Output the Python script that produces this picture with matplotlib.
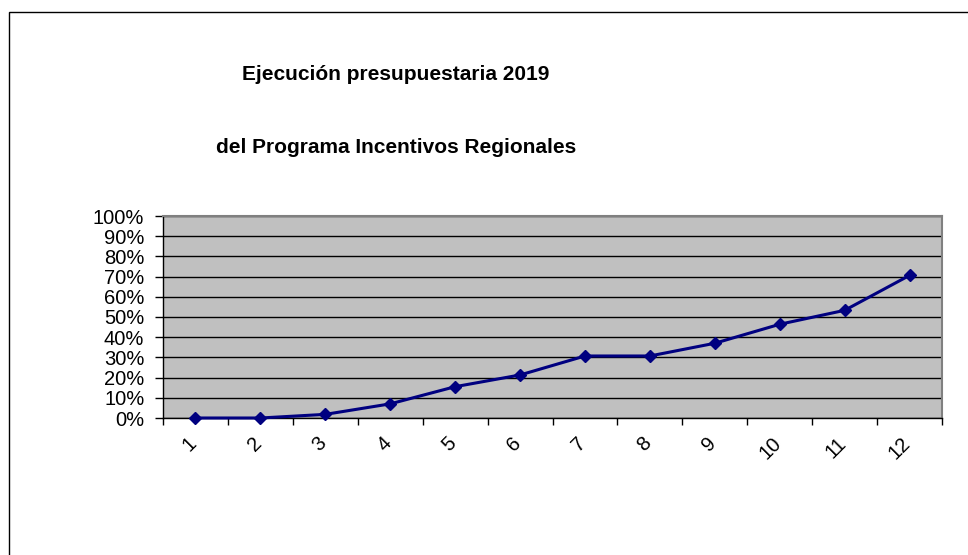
import matplotlib.pyplot as plt
from matplotlib.patches import Rectangle
from matplotlib.ticker import FixedLocator, PercentFormatter
from matplotlib.transforms import ScaledTranslation

# monthly cumulative budget execution (%)
months = ['1', '2', '3', '4', '5', '6', '7', '8', '9', '10', '11', '12']
execution = [0.0, 0.0, 1.8, 7.0, 15.5, 21.3, 30.7, 30.7, 37.0, 46.4, 53.3, 70.6]
title_1 = 'Ejecución presupuestaria 2019'
title_2 = 'del Programa Incentivos Regionales'

plt.rcParams['font.family'] = ['Liberation Sans', 'DejaVu Sans']

fig = plt.figure(figsize=(9.68, 5.55), dpi=100)
fig.patch.set_facecolor('white')

# chart border (cut off at right and bottom)
fig.patches.append(Rectangle((9 / 968, -0.1), 1.2, (555 - 12) / 555 + 0.1,
                             transform=fig.transFigure, fill=False,
                             edgecolor='black', linewidth=1.0, zorder=0))

ax = fig.add_axes([163 / 968, 137 / 555, 779 / 968, 202 / 555])
ax.set_facecolor('#C0C0C0')

x = list(range(len(months)))
ax.plot(x, execution, color='#000080', linewidth=2.2, marker='D',
        markersize=6.5, zorder=3, clip_on=False)

ax.set_xlim(-0.5, len(months) - 0.5)
ax.set_ylim(0, 100)
ax.set_yticks(range(0, 101, 10))
ax.yaxis.set_major_formatter(PercentFormatter(decimals=0))
ax.yaxis.grid(True, color='black', linewidth=1)
ax.set_axisbelow(True)

ax.set_xticks(x)
ax.set_xticklabels(months, rotation=45, ha='right', va='top')
ax.xaxis.set_minor_locator(FixedLocator([i - 0.5 for i in range(len(months) + 1)]))
ax.tick_params(axis='x', which='major', length=0, pad=11, labelsize=14.5)
ax.tick_params(axis='x', which='minor', length=5, width=1, color='black')
ax.tick_params(axis='y', length=6, width=1, color='black', pad=7.5, labelsize=14.5)

# nudge the rotated labels so their end sits under the point
shift = ScaledTranslation(5 / 100, 0, fig.dpi_scale_trans)
for lbl in ax.get_xticklabels():
    lbl.set_transform(lbl.get_transform() + shift)

for side in ['top', 'right']:
    ax.spines[side].set_color('#808080')
    ax.spines[side].set_linewidth(1.5)
for side in ['left', 'bottom']:
    ax.spines[side].set_color('black')
    ax.spines[side].set_linewidth(1)

fig.text(396 / 968, 1 - 75 / 555, title_1, ha='center', va='center',
         fontsize=15, fontweight='bold')
fig.text(396 / 968, 1 - 148 / 555, title_2, ha='center', va='center',
         fontsize=15, fontweight='bold')

fig.savefig('out.png', dpi=100)
